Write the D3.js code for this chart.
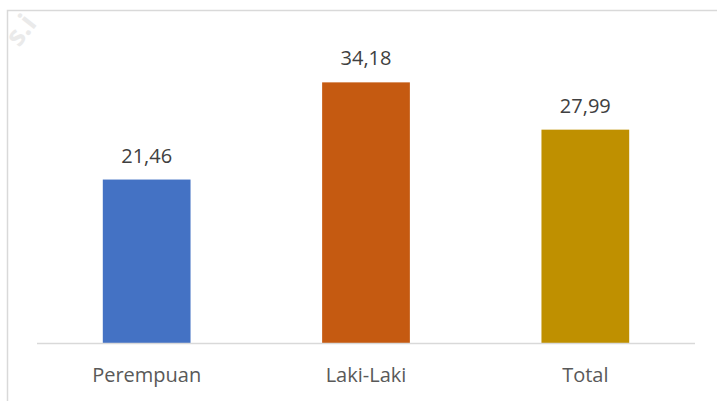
<!DOCTYPE html>
<html>
<head>
<meta charset="utf-8">
<script src="https://cdn.jsdelivr.net/npm/d3@7"></script>
<style>
  html, body { margin: 0; padding: 0; background: #fff; }
  svg { display: block; }
</style>
</head>
<body>
<svg id="chart" width="717" height="401"></svg>
<script>
// Categories, values and bar colours
const categories = ["Perempuan", "Laki-Laki", "Total"];
const values = [21.46, 34.18, 27.99];
const colors = ["#4472C4", "#C55A11", "#BF9000"];
const valueLabels = ["21,46", "34,18", "27,99"];

const W = 717, H = 401;
const svg = d3.select("#chart");

// Watermark, faint and rotated in the upper-left corner
svg.append("text")
  .attr("transform", "translate(19,48) rotate(-52)")
  .attr("font-family", "Open Sans, sans-serif")
  .attr("font-weight", "bold")
  .attr("font-size", 28)
  .attr("fill", "#eaeaea")
  .text("s.i");

// Chart frame (top and left edges)
svg.append("path")
  .attr("d", `M7.5,${H} V10.5 H${W}`)
  .attr("fill", "none")
  .attr("stroke", "#d9d9d9")
  .attr("stroke-width", 1.5);

const x = d3.scaleBand()
  .domain(categories)
  .range([37, 695])
  .paddingInner(0.6)
  .paddingOuter(0.3);

const y = d3.scaleLinear()
  .domain([0, 40])
  .range([343.5, 37.9]);

// Bars
svg.append("g")
  .selectAll("rect")
  .data(values)
  .join("rect")
  .attr("x", (d, i) => x(categories[i]))
  .attr("y", d => y(d))
  .attr("width", x.bandwidth())
  .attr("height", d => y(0) - y(d))
  .attr("fill", (d, i) => colors[i]);

// Value labels above bars
svg.append("g")
  .selectAll("text")
  .data(values)
  .join("text")
  .attr("x", (d, i) => x(categories[i]) + x.bandwidth() / 2)
  .attr("y", d => y(d) - 17)
  .attr("text-anchor", "middle")
  .attr("font-family", "Open Sans, sans-serif")
  .attr("font-size", 20)
  .attr("fill", "#404040")
  .text((d, i) => valueLabels[i]);

// Category axis
const axis = d3.axisBottom(x).tickSize(0).tickPadding(0);
const gx = svg.append("g")
  .attr("transform", `translate(0,${y(0)})`)
  .call(axis);
gx.select(".domain")
  .attr("d", `M37,0 H695`)
  .attr("stroke", "#d9d9d9")
  .attr("stroke-width", 1.5);
gx.selectAll(".tick text")
  .attr("y", 38.5)
  .attr("dy", null)
  .attr("font-family", "Open Sans, sans-serif")
  .attr("font-size", 20)
  .attr("fill", "#595959");
</script>
</body>
</html>
